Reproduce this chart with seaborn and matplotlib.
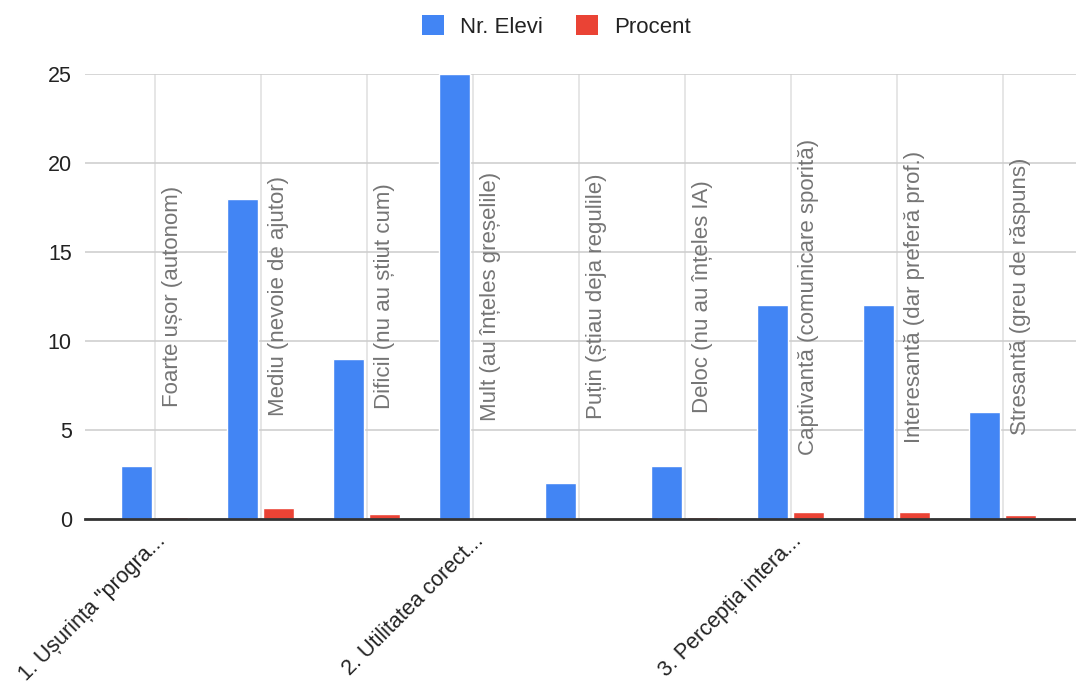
import matplotlib
matplotlib.use("Agg")
import matplotlib.pyplot as plt
import seaborn as sns
import pandas as pd
from matplotlib.patches import Patch

# ---- data ----
answers = [
    "Foarte ușor (autonom)",
    "Mediu (nevoie de ajutor)",
    "Dificil (nu au știut cum)",
    "Mult (au înțeles greșelile)",
    "Puțin (știau deja regulile)",
    "Deloc (nu au înțeles IA)",
    "Captivantă (comunicare sporită)",
    "Interesantă (dar preferă prof.)",
    "Stresantă (greu de răspuns)",
]
question_labels = [
    '1. Ușurința "progra...', "", "",
    "2. Utilitatea corect...", "", "",
    "3. Percepția intera...", "", "",
]
nr_elevi = [3, 18, 9, 25, 2, 3, 12, 12, 6]
procent = [0.10, 0.60, 0.30, 0.0, 0.0, 0.10, 0.40, 0.40, 0.20]
series_names = ["Nr. Elevi", "Procent"]
series_colors = ["#4285F4", "#EA4335"]
y_ticks = [0, 5, 10, 15, 20, 25]

df = pd.DataFrame({
    "answer": answers * 2,
    "value": nr_elevi + procent,
    "series": [series_names[0]] * len(answers) + [series_names[1]] * len(answers),
})

sns.set_theme(style="white")
plt.rcParams["font.family"] = ["Liberation Sans", "DejaVu Sans"]

fig = plt.figure(figsize=(10.76, 6.92), dpi=100)
ax = fig.add_axes([85 / 1076, 1 - 519 / 692, 1 - 85 / 1076, (519 - 74) / 692])

sns.barplot(data=df, x="answer", y="value", hue="series", order=answers,
            hue_order=series_names, palette=series_colors, width=0.68, gap=0.14,
            saturation=1, ax=ax, legend=False, zorder=3)

ax.set_xlim(-0.66, len(answers) - 1 + 0.69)
ax.set_ylim(0, 25)
ax.set_yticks(y_ticks)
ax.set_yticklabels([str(t) for t in y_ticks], fontsize=15.5, color="#222222")
ax.set_xticks(range(len(answers)))
ax.set_xticklabels(question_labels, rotation=45, ha="right",
                   rotation_mode="anchor", fontsize=15.5, color="#222222")
ax.tick_params(axis="both", length=0)
ax.tick_params(axis="y", pad=9.5)
ax.tick_params(axis="x", pad=8)
ax.set_xlabel("")
ax.set_ylabel("")

ax.grid(True, axis="y", color="#cfcfcf", linewidth=1.2, zorder=0)
ax.grid(True, axis="x", color="#e2e2e2", linewidth=1.2, zorder=0)
ax.set_axisbelow(True)
for s in ["left", "right", "top"]:
    ax.spines[s].set_visible(False)
ax.spines["bottom"].set_color("#333333")
ax.spines["bottom"].set_linewidth(2)
ax.spines["bottom"].set_zorder(5)

for i, txt in enumerate(answers):
    ax.text(i + 0.17, 12.5, txt, rotation=90, ha="center", va="center",
            fontsize=16, color="#757575", zorder=4)

handles = [Patch(facecolor=c, edgecolor="none") for c in series_colors]
fig.legend(handles, series_names, loc="center", bbox_to_anchor=(0.517, 0.962),
           ncol=2, frameon=False, fontsize=16, handlelength=1.0, handleheight=1.0,
           handletextpad=0.7, columnspacing=1.5, labelcolor="#222222")

fig.savefig("out.png", dpi=100)
